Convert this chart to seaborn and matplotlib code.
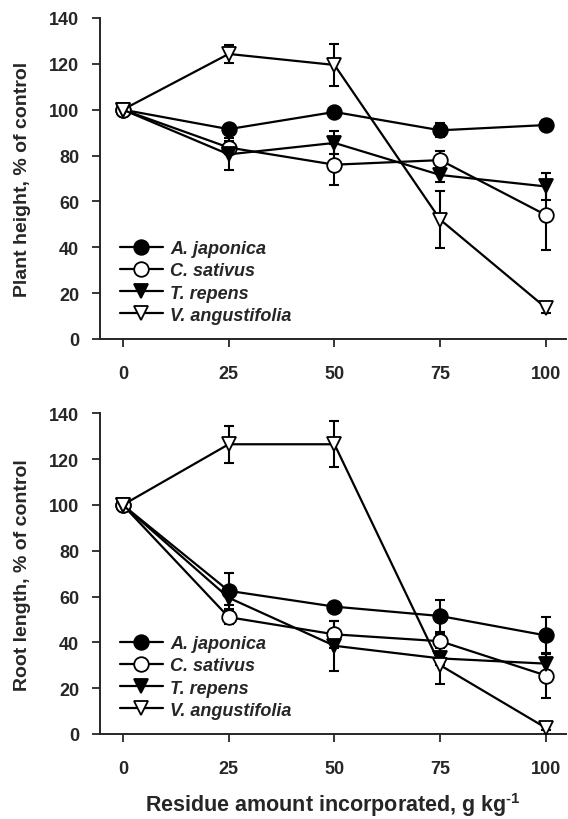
import pandas as pd
import matplotlib
matplotlib.use('Agg')
import matplotlib.pyplot as plt
import seaborn as sns

sns.set_style('ticks')
plt.rcParams['font.family'] = ['Liberation Sans', 'DejaVu Sans']
plt.rcParams['font.weight'] = 'bold'
plt.rcParams['mathtext.fontset'] = 'custom'
plt.rcParams['mathtext.rm'] = 'Liberation Sans:bold'
plt.rcParams['mathtext.bf'] = 'Liberation Sans:bold'

# residue amounts (g/kg)
amounts = [0, 25, 50, 75, 100]
species = ['A. japonica', 'C. sativus', 'T. repens', 'V. angustifolia']
markers = ['o', 'o', 'v', 'v']
fills = ['black', 'white', 'black', 'white']

# plant height, % of control
height = {
    'A. japonica':     [100, 91.5, 99, 91, 93.3],
    'C. sativus':      [100, 83.5, 76, 78, 54],
    'T. repens':       [100, 80.5, 85.5, 71.5, 66.5],
    'V. angustifolia': [100, 124.3, 119.5, 52, 13.5],
}
height_err = {
    'A. japonica':     [0, 1.5, 1.5, 3, 2],
    'C. sativus':      [0, 3, 9, 4, 15],
    'T. repens':       [0, 7, 5, 3, 6],
    'V. angustifolia': [0, 4, 9, 12.5, 2],
}

# root length, % of control
root = {
    'A. japonica':     [100, 62.5, 55.6, 51.5, 43],
    'C. sativus':      [100, 51, 43.5, 40.5, 25.5],
    'T. repens':       [100, 59.5, 38.5, 33, 30.7],
    'V. angustifolia': [100, 126.5, 126.5, 30, 2.6],
}
root_err = {
    'A. japonica':     [0, 8, 2, 7, 8],
    'C. sativus':      [0, 3, 6, 3, 10],
    'T. repens':       [0, 3, 11, 3, 4],
    'V. angustifolia': [0, 8, 10, 8, 1],
}


def draw_panel(ax, values, errors, ylabel):
    handles = []
    for sp, m, fc in zip(species, markers, fills):
        df = pd.DataFrame({'x': amounts, 'y': values[sp], 'err': errors[sp]})
        ax.errorbar(df['x'], df['y'], yerr=df['err'], fmt='none', ecolor='black',
                    elinewidth=1.5, capsize=3.5, capthick=1.5, zorder=2)
        sns.lineplot(data=df, x='x', y='y', ax=ax, color='black', lw=1.6,
                     marker=m, markersize=10.5 if m == 'o' else 9.5,
                     markerfacecolor=fc, markeredgecolor='black',
                     markeredgewidth=1.3, zorder=3)
        handles.append(ax.lines[-1])
    ax.set_xlim(-5.4, 104.7)
    ax.set_ylim(0, 140)
    ax.set_xticks(amounts)
    ax.set_yticks(range(0, 141, 20))
    ax.set_xlabel('')
    ax.set_ylabel(ylabel, fontsize=14, fontweight='bold', labelpad=13)
    ax.tick_params(direction='out', length=6, width=1.3, labelsize=13)
    ax.tick_params(axis='x', pad=13)
    ax.tick_params(axis='y', pad=9)
    for lab in ax.get_xticklabels() + ax.get_yticklabels():
        lab.set_fontweight('bold')
    for s in ['left', 'bottom']:
        ax.spines[s].set_linewidth(1.4)
    sns.despine(ax=ax)
    leg = ax.legend(handles, species, loc='lower left', frameon=False,
                    handlelength=2.4, handletextpad=0.4, labelspacing=0.29,
                    borderaxespad=0.3, bbox_to_anchor=(0.015, 0.008),
                    prop={'style': 'italic', 'weight': 'bold', 'size': 13})
    return leg


fig = plt.figure(figsize=(5.68, 8.2), dpi=100)
ax1 = fig.add_axes([0.176, 0.5854, 0.8205, 0.3915])
ax2 = fig.add_axes([0.176, 0.1037, 0.8205, 0.391])

draw_panel(ax1, height, height_err, 'Plant height, % of control')
draw_panel(ax2, root, root_err, 'Root length, % of control')
ax2.set_xlabel('Residue amount incorporated, g kg$^{\\text{-1}}$',
               fontsize=15.5, fontweight='bold', labelpad=9)

fig.savefig('out.png', dpi=100, facecolor='white')
